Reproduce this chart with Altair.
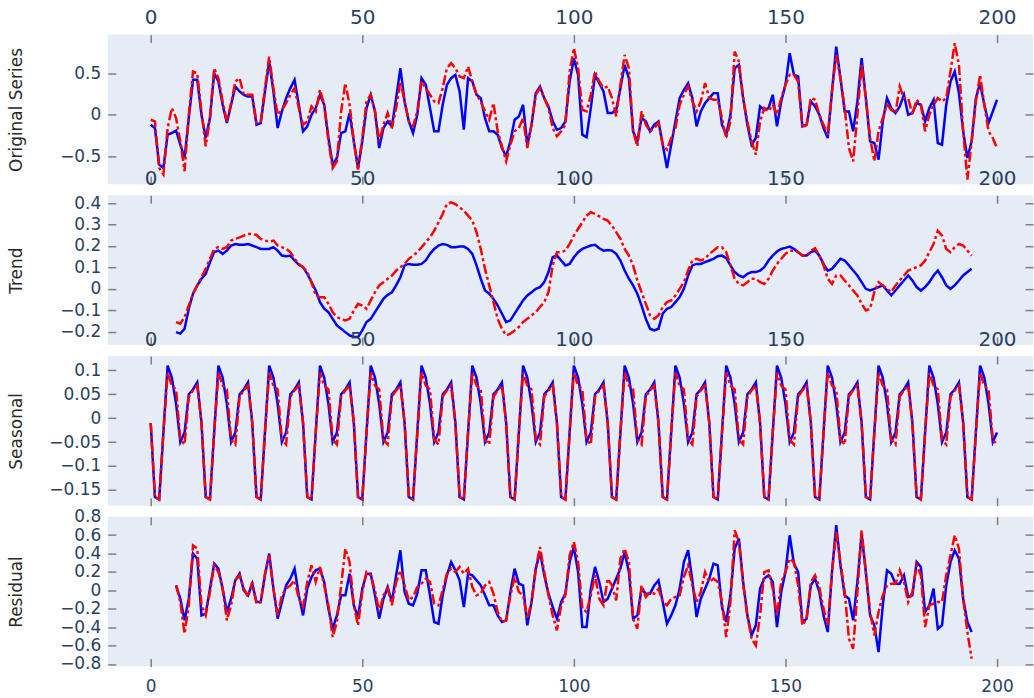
import altair as alt
import pandas as pd

# ---------------- data ----------------
x_full = list(range(0, 201))
x_mid = list(range(6, 195))

orig_blue = [
    -0.12, -0.16, -0.60, -0.64, -0.24, -0.22, -0.19, -0.36, -0.52, -0.04,
    0.42, 0.42, 0.00, -0.28, -0.04, 0.50, 0.40, 0.12, -0.10, 0.12,
    0.34, 0.28, 0.24, 0.22, 0.22, -0.12, -0.10, 0.28, 0.64, 0.28,
    -0.16, 0.04, 0.20, 0.32, 0.42, 0.12, -0.20, -0.14, 0.00, 0.08,
    0.24, 0.12, -0.28, -0.60, -0.52, -0.22, -0.20, 0.02, -0.32, -0.64,
    -0.32, 0.08, 0.24, 0.04, -0.40, -0.16, -0.08, -0.14, 0.20, 0.56,
    0.16, -0.08, -0.22, 0.00, 0.44, 0.36, 0.08, -0.20, -0.20, 0.12,
    0.36, 0.44, 0.48, 0.28, -0.18, 0.44, 0.40, 0.24, 0.20, -0.04,
    -0.20, -0.20, -0.24, -0.40, -0.50, -0.32, -0.06, -0.02, 0.12, -0.36,
    -0.12, 0.26, 0.34, 0.20, 0.10, -0.08, -0.18, -0.16, -0.08, 0.40,
    0.68, 0.48, -0.24, -0.27, 0.08, 0.48, 0.38, 0.28, 0.02, 0.02,
    0.06, 0.32, 0.60, 0.44, -0.20, -0.32, -0.04, -0.08, -0.20, -0.12,
    -0.08, -0.36, -0.64, -0.36, -0.08, 0.20, 0.30, 0.38, 0.20, -0.14,
    0.04, 0.14, 0.20, 0.26, 0.26, -0.12, -0.24, 0.00, 0.56, 0.60,
    0.20, -0.12, -0.36, -0.28, 0.10, 0.06, 0.08, 0.24, -0.14, 0.16,
    0.36, 0.74, 0.48, 0.46, -0.14, -0.12, 0.16, 0.10, 0.00, -0.16,
    -0.28, 0.28, 0.82, 0.44, 0.04, 0.04, -0.20, 0.16, 0.68, 0.20,
    -0.32, -0.34, -0.54, -0.08, 0.20, 0.08, 0.02, 0.10, 0.24, 0.00,
    0.02, 0.14, 0.12, -0.08, 0.08, 0.18, -0.34, -0.36, 0.12, 0.40,
    0.52, 0.26, -0.20, -0.52, -0.32, 0.20, 0.38, 0.12, -0.10, 0.04,
    0.18,
]

orig_red = [
    -0.06, -0.08, -0.64, -0.72, -0.16, 0.08, -0.04, -0.32, -0.68, 0.00,
    0.52, 0.50, 0.04, -0.38, -0.04, 0.56, 0.44, 0.16, -0.08, 0.14,
    0.40, 0.44, 0.24, 0.24, 0.24, -0.10, -0.08, 0.32, 0.70, 0.32,
    0.00, 0.06, 0.14, 0.24, 0.32, 0.08, -0.12, -0.08, 0.10, 0.04,
    0.30, 0.12, -0.32, -0.64, -0.56, 0.04, 0.38, 0.12, -0.32, -0.66,
    -0.28, 0.16, 0.24, 0.04, -0.32, -0.12, 0.02, -0.16, 0.08, 0.40,
    0.16, -0.08, -0.14, 0.04, 0.40, 0.32, 0.24, 0.16, 0.14, 0.32,
    0.56, 0.62, 0.56, 0.46, 0.44, 0.58, 0.40, 0.24, 0.16, 0.04,
    -0.06, 0.14, -0.20, -0.38, -0.56, -0.36, -0.20, -0.16, -0.04, -0.40,
    -0.12, 0.24, 0.32, 0.20, 0.08, -0.16, -0.26, -0.20, -0.12, 0.52,
    0.80, 0.56, 0.06, 0.04, 0.24, 0.52, 0.40, 0.32, 0.34, 0.20,
    -0.02, 0.36, 0.72, 0.56, -0.20, -0.38, 0.04, -0.12, -0.20, -0.16,
    -0.10, -0.36, -0.42, -0.28, -0.16, 0.12, 0.24, 0.34, 0.16, 0.04,
    0.16, 0.38, 0.20, 0.18, 0.18, -0.04, -0.28, -0.08, 0.76, 0.64,
    0.20, -0.08, -0.32, -0.48, -0.08, 0.08, 0.04, 0.12, 0.00, 0.20,
    0.36, 0.48, 0.48, 0.40, -0.16, -0.12, 0.20, 0.18, 0.00, -0.12,
    -0.24, 0.28, 0.72, 0.44, 0.08, -0.40, -0.56, 0.00, 0.60, 0.20,
    -0.28, -0.56, -0.20, -0.04, 0.12, 0.06, 0.02, 0.34, 0.20, 0.20,
    0.00, 0.18, 0.12, -0.20, 0.00, 0.12, 0.20, 0.16, 0.20, 0.52,
    0.86, 0.60, -0.20, -0.78, -0.32, 0.16, 0.48, 0.12, -0.20, -0.28,
    -0.40,
]

trend_blue = [
    -0.202, -0.209, -0.186, -0.093, -0.023, 0.016, 0.047, 0.070, 0.124, 0.171,
    0.178, 0.163, 0.178, 0.202, 0.209, 0.205, 0.205, 0.209, 0.202, 0.194,
    0.186, 0.186, 0.186, 0.194, 0.178, 0.155, 0.152, 0.155, 0.132, 0.112,
    0.101, 0.070, 0.031, -0.008, -0.062, -0.093, -0.109, -0.140, -0.171, -0.186,
    -0.202, -0.217, -0.225, -0.225, -0.194, -0.155, -0.140, -0.109, -0.078, -0.047,
    -0.028, -0.016, 0.016, 0.054, 0.109, 0.116, 0.112, 0.112, 0.116, 0.132,
    0.163, 0.186, 0.202, 0.209, 0.205, 0.194, 0.194, 0.197, 0.197, 0.186,
    0.163, 0.109, 0.047, -0.008, -0.023, -0.047, -0.078, -0.116, -0.155, -0.147,
    -0.116, -0.085, -0.054, -0.031, -0.016, 0.000, 0.008, 0.031, 0.078, 0.147,
    0.155, 0.132, 0.109, 0.116, 0.147, 0.171, 0.186, 0.194, 0.202, 0.205,
    0.189, 0.178, 0.181, 0.178, 0.163, 0.132, 0.085, 0.047, 0.016, -0.023,
    -0.078, -0.140, -0.186, -0.194, -0.186, -0.116, -0.093, -0.085, -0.062, -0.039,
    0.000, 0.062, 0.109, 0.116, 0.116, 0.124, 0.132, 0.140, 0.152, 0.155,
    0.143, 0.109, 0.078, 0.062, 0.054, 0.070, 0.078, 0.078, 0.085, 0.101,
    0.132, 0.155, 0.174, 0.186, 0.191, 0.197, 0.186, 0.171, 0.155, 0.155,
    0.171, 0.178, 0.155, 0.116, 0.085, 0.093, 0.116, 0.140, 0.132, 0.109,
    0.085, 0.062, 0.031, 0.000, -0.008, 0.000, 0.008, 0.016, -0.008, -0.031,
    -0.008, 0.016, 0.039, 0.062, 0.039, 0.008, -0.008, 0.008, 0.031, 0.062,
    0.085, 0.054, 0.016, 0.000, 0.016, 0.039, 0.062, 0.078, 0.093,
]

trend_red = [
    -0.155, -0.163, -0.132, -0.078, -0.023, 0.016, 0.054, 0.093, 0.140, 0.186,
    0.194, 0.186, 0.194, 0.225, 0.233, 0.240, 0.248, 0.256, 0.256, 0.251,
    0.233, 0.225, 0.220, 0.225, 0.202, 0.194, 0.186, 0.171, 0.140, 0.116,
    0.101, 0.078, 0.031, -0.031, -0.039, -0.039, -0.070, -0.109, -0.132, -0.140,
    -0.147, -0.140, -0.101, -0.070, -0.078, -0.093, -0.054, -0.016, 0.016, 0.031,
    0.047, 0.062, 0.085, 0.101, 0.116, 0.140, 0.155, 0.171, 0.194, 0.217,
    0.240, 0.271, 0.310, 0.349, 0.395, 0.403, 0.395, 0.380, 0.364, 0.341,
    0.318, 0.264, 0.186, 0.093, 0.016, -0.062, -0.140, -0.186, -0.217, -0.209,
    -0.194, -0.178, -0.155, -0.140, -0.124, -0.109, -0.085, -0.062, -0.016, 0.109,
    0.171, 0.171, 0.178, 0.209, 0.248, 0.279, 0.310, 0.341, 0.357, 0.349,
    0.338, 0.326, 0.318, 0.295, 0.264, 0.233, 0.186, 0.155, 0.109, 0.039,
    -0.016, -0.070, -0.124, -0.140, -0.124, -0.085, -0.062, -0.054, -0.031, 0.000,
    0.031, 0.085, 0.132, 0.140, 0.132, 0.140, 0.163, 0.178, 0.194, 0.194,
    0.171, 0.109, 0.047, 0.023, 0.016, 0.031, 0.047, 0.047, 0.031, 0.023,
    0.047, 0.085, 0.116, 0.140, 0.163, 0.178, 0.178, 0.171, 0.155, 0.155,
    0.178, 0.189, 0.155, 0.109, 0.047, 0.023, 0.062, 0.062, 0.039, 0.016,
    -0.008, -0.031, -0.070, -0.101, -0.093, -0.016, 0.031, 0.016, 0.000, -0.016,
    0.016, 0.039, 0.062, 0.085, 0.093, 0.101, 0.109, 0.132, 0.171, 0.209,
    0.271, 0.248, 0.186, 0.171, 0.194, 0.209, 0.202, 0.178, 0.155,
]

seas_blue = [
    -0.01, -0.165, -0.17, -0.03, 0.11, 0.085, 0.03, -0.05, -0.03, 0.05, 0.06, 0.075,
    -0.01, -0.165, -0.17, -0.03, 0.11, 0.085, 0.03, -0.05, -0.03, 0.05, 0.06, 0.075,
    -0.01, -0.165, -0.17, -0.03, 0.11, 0.085, 0.03, -0.05, -0.03, 0.05, 0.06, 0.075,
    -0.01, -0.165, -0.17, -0.03, 0.11, 0.085, 0.03, -0.05, -0.03, 0.05, 0.06, 0.075,
    -0.01, -0.165, -0.17, -0.03, 0.11, 0.085, 0.03, -0.05, -0.03, 0.05, 0.06, 0.075,
    -0.01, -0.165, -0.17, -0.03, 0.11, 0.085, 0.03, -0.05, -0.03, 0.05, 0.06, 0.075,
    -0.01, -0.165, -0.17, -0.03, 0.11, 0.085, 0.03, -0.05, -0.03, 0.05, 0.06, 0.075,
    -0.01, -0.165, -0.17, -0.03, 0.11, 0.085, 0.03, -0.05, -0.03, 0.05, 0.06, 0.075,
    -0.01, -0.165, -0.17, -0.03, 0.11, 0.085, 0.03, -0.05, -0.03, 0.05, 0.06, 0.075,
    -0.01, -0.165, -0.17, -0.03, 0.11, 0.085, 0.03, -0.05, -0.03, 0.05, 0.06, 0.075,
    -0.01, -0.165, -0.17, -0.03, 0.11, 0.085, 0.03, -0.05, -0.03, 0.05, 0.06, 0.075,
    -0.01, -0.165, -0.17, -0.03, 0.11, 0.085, 0.03, -0.05, -0.03, 0.05, 0.06, 0.075,
    -0.01, -0.165, -0.17, -0.03, 0.11, 0.085, 0.03, -0.05, -0.03, 0.05, 0.06, 0.075,
    -0.01, -0.165, -0.17, -0.03, 0.11, 0.085, 0.03, -0.05, -0.03, 0.05, 0.06, 0.075,
    -0.01, -0.165, -0.17, -0.03, 0.11, 0.085, 0.03, -0.05, -0.03, 0.05, 0.06, 0.075,
    -0.01, -0.165, -0.17, -0.03, 0.11, 0.085, 0.03, -0.05, -0.03, 0.05, 0.06, 0.075,
    -0.01, -0.165, -0.17, -0.03, 0.11, 0.085, 0.03, -0.05, -0.03,
]

seas_red = [
    -0.01, -0.165, -0.17, -0.03, 0.095, 0.068, 0.06, -0.045, -0.055, 0.045, 0.058, 0.068,
    -0.01, -0.165, -0.17, -0.03, 0.095, 0.068, 0.06, -0.045, -0.055, 0.045, 0.058, 0.068,
    -0.01, -0.165, -0.17, -0.03, 0.095, 0.068, 0.06, -0.045, -0.055, 0.045, 0.058, 0.068,
    -0.01, -0.165, -0.17, -0.03, 0.095, 0.068, 0.06, -0.045, -0.055, 0.045, 0.058, 0.068,
    -0.01, -0.165, -0.17, -0.03, 0.095, 0.068, 0.06, -0.045, -0.055, 0.045, 0.058, 0.068,
    -0.01, -0.165, -0.17, -0.03, 0.095, 0.068, 0.06, -0.045, -0.055, 0.045, 0.058, 0.068,
    -0.01, -0.165, -0.17, -0.03, 0.095, 0.068, 0.06, -0.045, -0.055, 0.045, 0.058, 0.068,
    -0.01, -0.165, -0.17, -0.03, 0.095, 0.068, 0.06, -0.045, -0.055, 0.045, 0.058, 0.068,
    -0.01, -0.165, -0.17, -0.03, 0.095, 0.068, 0.06, -0.045, -0.055, 0.045, 0.058, 0.068,
    -0.01, -0.165, -0.17, -0.03, 0.095, 0.068, 0.06, -0.045, -0.055, 0.045, 0.058, 0.068,
    -0.01, -0.165, -0.17, -0.03, 0.095, 0.068, 0.06, -0.045, -0.055, 0.045, 0.058, 0.068,
    -0.01, -0.165, -0.17, -0.03, 0.095, 0.068, 0.06, -0.045, -0.055, 0.045, 0.058, 0.068,
    -0.01, -0.165, -0.17, -0.03, 0.095, 0.068, 0.06, -0.045, -0.055, 0.045, 0.058, 0.068,
    -0.01, -0.165, -0.17, -0.03, 0.095, 0.068, 0.06, -0.045, -0.055, 0.045, 0.058, 0.068,
    -0.01, -0.165, -0.17, -0.03, 0.095, 0.068, 0.06, -0.045, -0.055, 0.045, 0.058, 0.068,
    -0.01, -0.165, -0.17, -0.03, 0.095, 0.068, 0.06, -0.045, -0.055, 0.045, 0.058, 0.068,
    -0.01, -0.165, -0.17, -0.03, 0.095, 0.068, 0.06, -0.045, -0.055,
]

resid_blue = [
    0.054, -0.091, -0.326, -0.091, 0.399, 0.344, -0.272, -0.254, 0.018, 0.290,
    0.236, 0.018, -0.236, -0.091, 0.109, 0.181, 0.000, -0.054, 0.072, -0.127,
    -0.127, 0.163, 0.399, 0.018, -0.308, -0.127, 0.054, 0.127, 0.236, -0.054,
    -0.272, 0.018, 0.145, 0.217, 0.236, 0.091, -0.199, -0.417, -0.272, -0.054,
    -0.054, 0.181, -0.163, -0.290, 0.018, 0.181, 0.181, -0.054, -0.308, -0.091,
    0.036, -0.127, 0.163, 0.435, -0.018, -0.145, -0.163, -0.036, 0.217, 0.217,
    -0.054, -0.344, -0.362, -0.054, 0.163, 0.308, 0.217, 0.109, -0.181, 0.181,
    0.163, 0.109, 0.054, -0.054, -0.163, -0.163, -0.272, -0.344, -0.326, -0.018,
    0.236, 0.072, 0.054, -0.380, -0.127, 0.236, 0.417, 0.163, -0.036, -0.181,
    -0.308, -0.127, -0.036, 0.308, 0.471, 0.199, -0.399, -0.399, 0.018, 0.254,
    0.091, -0.127, -0.091, 0.018, 0.127, 0.236, 0.417, 0.199, -0.308, -0.272,
    0.018, -0.036, -0.036, 0.054, 0.109, -0.127, -0.362, -0.272, -0.163, 0.018,
    0.308, 0.435, 0.109, -0.290, -0.091, 0.018, 0.127, 0.290, 0.272, -0.181,
    -0.344, -0.054, 0.453, 0.562, 0.091, -0.272, -0.489, -0.380, 0.018, 0.127,
    0.163, 0.091, -0.399, -0.018, 0.199, 0.598, 0.290, 0.199, -0.344, -0.308,
    0.054, 0.127, -0.018, -0.272, -0.453, 0.199, 0.707, 0.272, -0.054, -0.091,
    -0.326, 0.091, 0.616, 0.199, -0.272, -0.380, -0.670, -0.163, 0.217, 0.181,
    0.072, 0.072, 0.163, -0.072, -0.054, 0.308, 0.254, -0.236, -0.163, 0.018,
    -0.417, -0.380, 0.054, 0.308, 0.435, 0.344, -0.091, -0.344, -0.453,
]

resid_red = [
    0.054, -0.127, -0.471, -0.163, 0.489, 0.453, -0.163, -0.272, -0.018, 0.272,
    0.199, 0.018, -0.326, -0.163, 0.109, 0.163, 0.018, -0.072, 0.091, -0.145,
    -0.127, 0.181, 0.380, 0.018, -0.272, -0.054, 0.018, 0.054, 0.109, -0.091,
    -0.181, 0.091, 0.272, 0.091, 0.254, 0.054, -0.163, -0.507, -0.344, 0.054,
    0.453, 0.308, -0.163, -0.380, -0.018, 0.199, 0.163, 0.000, -0.236, -0.054,
    0.018, -0.163, 0.091, 0.217, 0.054, -0.109, -0.072, 0.036, 0.072, 0.127,
    0.091, -0.145, -0.163, 0.000, 0.181, 0.236, 0.199, 0.254, 0.181, 0.236,
    0.036, -0.054, -0.036, 0.054, 0.091, -0.036, -0.236, -0.344, -0.326, -0.054,
    0.145, -0.018, -0.054, -0.308, -0.127, 0.236, 0.471, 0.199, -0.054, -0.272,
    -0.435, -0.163, -0.054, 0.380, 0.525, 0.308, -0.199, -0.236, -0.054, 0.163,
    -0.091, -0.163, 0.127, 0.054, -0.109, 0.344, 0.453, 0.308, -0.308, -0.417,
    0.054, -0.072, -0.018, -0.036, 0.018, -0.127, -0.163, -0.091, -0.072, -0.054,
    0.145, 0.272, 0.054, -0.127, -0.018, 0.199, 0.091, 0.127, 0.091, -0.127,
    -0.507, -0.127, 0.652, 0.525, 0.072, -0.272, -0.525, -0.598, -0.272, 0.199,
    0.217, 0.018, -0.272, 0.091, 0.199, 0.344, 0.308, 0.054, -0.380, -0.308,
    0.091, 0.163, 0.036, -0.199, -0.380, 0.199, 0.634, 0.308, -0.018, -0.525,
    -0.634, -0.018, 0.652, 0.199, -0.236, -0.489, -0.236, -0.054, 0.054, 0.072,
    0.072, 0.217, 0.091, -0.127, -0.018, 0.272, 0.163, -0.399, -0.163, -0.145,
    -0.127, -0.127, 0.163, 0.380, 0.598, 0.453, -0.091, -0.453, -0.743,
]

x_tick_values = [0, 50, 100, 150, 200]
orig_ticks = [-0.5, 0, 0.5]
trend_ticks = [-0.2, -0.1, 0, 0.1, 0.2, 0.3, 0.4]
seas_ticks = [-0.15, -0.1, -0.05, 0, 0.05, 0.1]
resid_ticks = [-0.8, -0.6, -0.4, -0.2, 0, 0.2, 0.4, 0.6, 0.8]

# ---------------- styling ----------------
FONT = "DejaVu Sans"
LABEL_COLOR = "#2a3f5f"
TITLE_COLOR = "#2a2a2a"
TICK_COLOR = "#7f7f7f"
BG = "#E5ECF6"
W, H = 927, 150
X_DOMAIN = [-10.14, 208.5]
NUM_FMT = "~r"


def tick_axis(orient, values):
    return alt.Axis(
        orient=orient, values=values, labels=False, ticks=True, tickSize=8,
        offset=-8, domain=False, grid=False, title=None,
        tickColor=TICK_COLOR, tickWidth=1.5,
    )


def panel(xs, blue, red, title, ydom, yticks, top_labels=True):
    df = pd.DataFrame({"x": xs, "blue": blue, "red": red})
    xscale = alt.Scale(domain=X_DOMAIN, nice=False, zero=False)
    yscale = alt.Scale(domain=ydom, nice=False, zero=False)

    if top_labels:
        x_lab = alt.Axis(
            orient="top", values=x_tick_values, format=NUM_FMT, labelFont=FONT,
            labelFontSize=20, labelColor=LABEL_COLOR, labelPadding=7,
            ticks=False, tickSize=0, domain=False, grid=False, title=None,
            labelFlush=False, labelOverlap=False,
        )
    else:
        x_lab = alt.Axis(
            orient="bottom", values=x_tick_values, format=NUM_FMT, labelFont=FONT,
            labelFontSize=17, labelColor=LABEL_COLOR, labelPadding=12,
            ticks=False, tickSize=0, domain=False, grid=False, title=None,
            labelFlush=False, labelOverlap=False,
        )
    y_lab = alt.Axis(
        orient="left", values=yticks, format=NUM_FMT, labelFont=FONT,
        labelFontSize=17, labelColor=LABEL_COLOR, labelPadding=7,
        ticks=False, tickSize=0, domain=False, grid=False, title=title,
        titleFont=FONT, titleFontSize=17, titleFontWeight="normal",
        titleColor=TITLE_COLOR, titleX=-82, titleBaseline="bottom",
        labelFlush=False, labelOverlap=False,
    )
    inner_ticks = [v for v in yticks if ydom[0] < v < ydom[1] - 0.005]

    base = alt.Chart(df).properties(width=W, height=H)
    blue_line = base.mark_line(color="#0000ff", strokeWidth=2.5, clip=True).encode(
        x=alt.X("x:Q", scale=xscale, axis=x_lab),
        y=alt.Y("blue:Q", scale=yscale, axis=y_lab),
    )
    red_line = base.mark_line(
        color="#ff0000", strokeWidth=2.5, strokeDash=[10, 3, 3, 3], clip=True
    ).encode(
        x=alt.X("x:Q", scale=xscale, axis=tick_axis("top", x_tick_values)),
        y=alt.Y("red:Q", scale=yscale, axis=tick_axis("left", inner_ticks)),
    )
    ghost = base.mark_line(opacity=0, clip=True).encode(
        x=alt.X("x:Q", scale=xscale, axis=tick_axis("bottom", x_tick_values)),
        y=alt.Y("red:Q", scale=yscale, axis=tick_axis("right", inner_ticks)),
    )
    return alt.layer(blue_line, red_line, ghost).resolve_axis(
        x="independent", y="independent"
    )


p1 = panel(x_full, orig_blue, orig_red, "Original Series", [-0.837, 0.964], orig_ticks)
p2 = panel(x_mid, trend_blue, trend_red, "Trend", [-0.262, 0.436], trend_ticks)
p3 = panel(x_full, seas_blue, seas_red, "Seasonal", [-0.183, 0.13], seas_ticks)
p4 = panel(x_mid, resid_blue, resid_red, "Residual", [-0.826, 0.80], resid_ticks,
           top_labels=False)

chart = (
    alt.vconcat(p1, p2, p3, p4, spacing=11, bounds="flush")
    .properties(
        padding={"left": 8, "top": 7, "right": 0, "bottom": 0},
        background="white",
    )
    .configure_view(fill=BG, strokeWidth=0)
)

chart.save("out.html", embed_options={"renderer": "svg", "actions": False})
